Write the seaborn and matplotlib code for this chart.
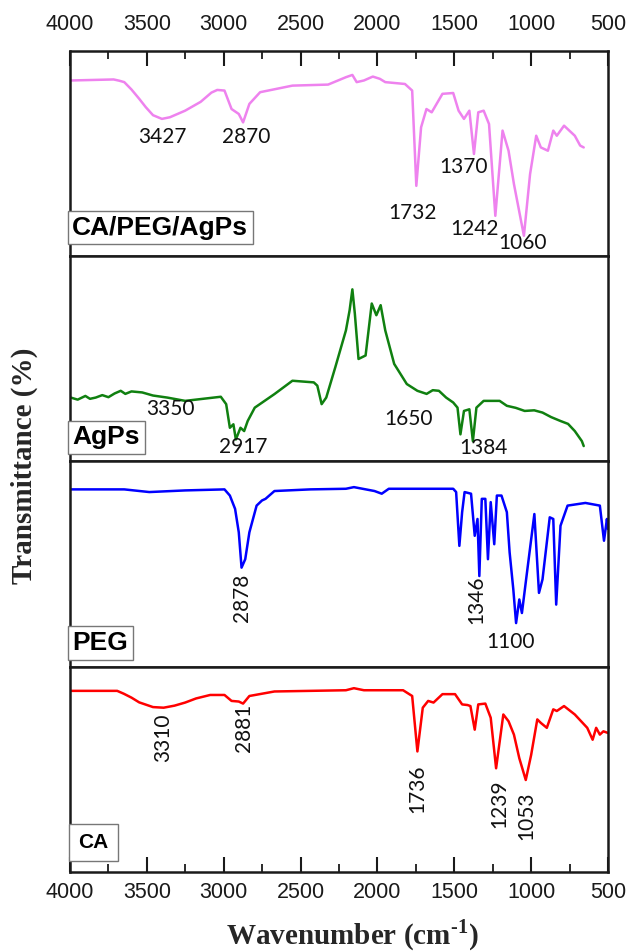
import matplotlib
matplotlib.use("Agg")
import matplotlib.pyplot as plt
import seaborn as sns
import pandas as pd
from matplotlib.ticker import MultipleLocator

# ---------------- data ----------------
# CA/PEG/AgPs spectrum
wn_cpa = [3995, 3716, 3680, 3647, 3600, 3550, 3507, 3460, 3402, 3350, 3251, 3150, 3080,
          3042, 2995, 2949, 2902, 2874, 2833, 2763,
          2553, 2321, 2205, 2163, 2135, 2088, 2030, 1984, 1949, 1821, 1774, 1747, 1716,
          1681, 1647, 1577, 1507, 1472, 1437, 1402, 1372, 1344, 1309, 1274, 1233, 1186,
          1147, 1112, 1047, 1007, 967, 937, 891, 856, 833, 786, 716, 681, 658]
t_cpa = [85.4, 85.9, 85.3, 84.6, 81.0, 76.5, 72.4, 68.5, 66.7, 67.5, 70.7, 75.0, 79.5,
         80.8, 80.5, 71.5, 69.1, 65.0, 74.0, 79.7,
         82.9, 83.4, 87.0, 88.1, 84.6, 85.4, 87.3, 86.2, 84.6, 83.7, 80.5, 34.1, 62.6,
         71.5, 69.9, 78.9, 79.3, 70.7, 66.7, 70.7, 49.6, 69.9, 70.7, 64.2, 19.5, 61.0,
         51.2, 35.0, 9.8, 39.8, 58.5, 52.8, 51.2, 61.0, 58.5, 63.4, 58.5, 53.7, 52.8]

# AgPs spectrum
wn_ag = [3995, 3950, 3900, 3870, 3833, 3790, 3750, 3710, 3670, 3640, 3600, 3530, 3460,
         3367, 3251, 3019, 2984, 2960, 2937, 2921, 2891, 2867, 2844, 2798, 2670, 2553,
         2414, 2391, 2363, 2333, 2274, 2205, 2181, 2163, 2147, 2123, 2077, 2037, 2007,
         1979, 1949, 1891, 1809, 1740, 1680, 1640, 1600, 1553, 1507, 1479, 1460, 1437,
         1402, 1379, 1356, 1309, 1205, 1158, 1100, 1042, 980, 926, 870, 809, 760, 716,
         670, 658]
t_ag = [31.0, 30.0, 31.8, 30.4, 31.0, 32.2, 31.2, 33.0, 34.3, 32.8, 34.0, 33.5, 32.0,
        31.0, 29.4, 31.4, 27.8, 16.3, 18.0, 10.6, 16.3, 14.7, 19.6, 26.1, 32.7, 39.2,
        38.4, 36.8, 27.8, 31.0, 45.8, 63.7, 73.5, 83.7, 71.9, 49.8, 51.5, 76.8, 71.1,
        76.0, 63.7, 47.4, 37.6, 34.3, 32.8, 34.6, 34.3, 31.0, 28.6, 26.1, 13.1, 24.5,
        25.3, 9.8, 26.1, 29.4, 29.4, 27.0, 26.0, 24.5, 24.8, 23.7, 21.5, 19.6, 18.2, 14.7,
        9.8, 7.4]

# PEG spectrum
wn_peg = [3995, 3647, 3484, 3251, 2995, 2960, 2926, 2902, 2884, 2860, 2833, 2786, 2751,
          2728, 2670, 2437, 2205, 2153, 2019, 1972, 1926, 1740, 1507, 1488, 1467, 1449,
          1433, 1391, 1367, 1349, 1337, 1321, 1298, 1281, 1263, 1240, 1223, 1193, 1158,
          1140, 1116, 1098, 1077, 1060, 1030, 979, 949, 926, 879, 856, 837, 809, 763,
          647, 553, 526, 507, 500]
t_peg = [86.3, 86.3, 85.0, 85.8, 86.3, 83.3, 76.8, 65.4, 48.2, 52.3, 65.4, 78.4, 80.9,
         81.7, 85.5, 86.3, 86.6, 87.4, 85.5, 84.2, 86.6, 86.6, 86.6, 85.0, 58.8, 75.2,
         85.0, 84.2, 63.7, 71.9, 44.1, 81.7, 81.7, 52.3, 80.1, 59.6, 83.3, 83.3, 75.2,
         55.6, 37.6, 21.2, 32.7, 26.1, 44.1, 74.3, 35.9, 42.5, 72.7, 71.9, 30.2, 68.6,
         78.4, 79.7, 78.4, 61.3, 71.9, 67.0]

# CA spectrum
wn_ca = [3995, 3693, 3650, 3600, 3550, 3460, 3391, 3320, 3251, 3180, 3088, 2995, 2949,
         2902, 2874, 2833, 2670,
         2205, 2153, 2088, 1833, 1774, 1740, 1705, 1670, 1635, 1577, 1495, 1449, 1414,
         1395, 1367, 1344, 1298, 1263, 1228, 1181, 1147, 1112, 1077, 1035, 1000, 960,
         937, 898, 856, 833, 786, 716, 635, 600, 577, 553, 530, 500]
t_ca = [88.2, 88.2, 86.8, 84.9, 82.6, 80.3, 80.0, 81.0, 82.5, 84.5, 86.2, 86.2, 83.3,
        83.0, 82.0, 85.7, 87.9,
        88.5, 89.5, 88.5, 88.5, 85.7, 58.7, 80.0, 83.3, 82.5, 86.6, 86.6, 81.6, 81.3,
        80.8, 69.3, 81.6, 82.0, 75.1, 50.5, 76.7, 73.4, 66.9, 55.4, 44.8, 57.0, 74.3,
        72.6, 70.2, 79.2, 78.4, 80.8, 76.7, 70.2, 64.4, 70.2, 66.9, 68.5, 67.7]

sample_names = ["CA/PEG/AgPs", "AgPs", "PEG", "CA"]
line_colors = ["#ee82ee", "#108010", "#0000ff", "#ff0000"]

# peak labels: (text, wavenumber, level, rotation)
peaks_cpa = [("3427", 3402, 57.7, 0), ("2870", 2856, 57.7, 0), ("1370", 1437, 43.1, 0),
             ("1732", 1774, 21.1, 0), ("1242", 1367, 13.0, 0), ("1060", 1053, 6.5, 0)]
peaks_ag = [("3350", 3344, 25.3, 0), ("2917", 2874, 6.9, 0), ("1650", 1798, 20.4, 0),
            ("1384", 1309, 6.5, 0)]
peaks_peg = [("2878", 2879, 33.5, 90), ("1346", 1356, 32.7, 90), ("1100", 1135, 11.8, 0)]
peaks_ca = [("3310", 3391, 65.2, 90), ("2881", 2867, 70.2, 90), ("1736", 1740, 40.7, 90),
            ("1239", 1209, 33.3, 90), ("1053", 1030, 27.5, 90)]

box_levels = [13.8, 11.6, 11.5, 14.4]
box_sizes = [19, 19, 19, 15]
box_pads = [0.18, 0.18, 0.18, 0.45]

tick_values = [4000, 3500, 3000, 2500, 2000, 1500, 1000, 500]

# ---------------- figure ----------------
sns.set_theme(style="white")
plt.rcParams["font.family"] = ["Liberation Sans", "DejaVu Sans"]
plt.rcParams["mathtext.fontset"] = "custom"
plt.rcParams["mathtext.rm"] = "Liberation Serif:bold"
plt.rcParams["mathtext.bf"] = "Liberation Serif:bold"

fig = plt.figure(figsize=(6.28, 9.52), dpi=100)
gs = fig.add_gridspec(4, 1, left=70 / 628, right=608 / 628, top=1 - 50.5 / 952,
                      bottom=1 - 872 / 952, hspace=0)
axes = [fig.add_subplot(gs[i, 0]) for i in range(4)]

spectra = [(wn_cpa, t_cpa), (wn_ag, t_ag), (wn_peg, t_peg), (wn_ca, t_ca)]
peak_sets = [peaks_cpa, peaks_ag, peaks_peg, peaks_ca]

for i, ax in enumerate(axes):
    wn, tr = spectra[i]
    df = pd.DataFrame({"Wavenumber": wn, "T": tr})
    sns.lineplot(data=df, x="Wavenumber", y="T", ax=ax, color=line_colors[i],
                 linewidth=1.8, sort=False, estimator=None)
    ax.set_xlim(4000, 500)
    ax.set_ylim(0, 100)
    ax.set_xlabel("")
    ax.set_ylabel("")
    ax.set_yticks([])
    for s in ax.spines.values():
        s.set_linewidth(1.8)
        s.set_color("#1a1a1a")
    ax.xaxis.set_major_locator(MultipleLocator(500))
    ax.xaxis.set_minor_locator(MultipleLocator(250))
    ax.tick_params(axis="x", which="both", direction="in", bottom=False, top=False,
                   labelbottom=False, labeltop=False, colors="#1a1a1a")
    ax.tick_params(axis="x", which="major", length=11, width=1.5)
    ax.tick_params(axis="x", which="minor", length=6, width=1.3)

    for txt, x, y, rot in peak_sets[i]:
        ax.text(x, y, txt, rotation=rot, ha="center", va="center", fontsize=15,
                family=["Lato", "DejaVu Sans"], color="#111111")

    ax.text(3985 if i < 3 else 3945, box_levels[i], sample_names[i], ha="left",
            va="center", fontsize=box_sizes[i], fontweight="bold", color="black",
            bbox=dict(boxstyle="square,pad=%g" % box_pads[i], fc="white", ec="#777777",
                      lw=1.0))

axes[0].tick_params(axis="x", which="both", top=True, labeltop=True, pad=11,
                    labelsize=15.5)
axes[0].set_xticks(tick_values)
axes[0].set_xticklabels([str(v) for v in tick_values])
axes[3].tick_params(axis="x", which="both", bottom=True, labelbottom=True, pad=7,
                    labelsize=15.5)
axes[3].set_xticks(tick_values)
axes[3].set_xticklabels([str(v) for v in tick_values])

fig.text(24 / 628, 1 - 466 / 952, "Transmittance (%)", rotation=90, ha="center",
         va="center", fontsize=21, fontweight="bold", family="Liberation Serif")
fig.text(352 / 628, 1 - 944 / 952, r"Wavenumber (cm$^{\text{-1}}$)", ha="center",
         va="baseline", fontsize=21, fontweight="bold", family="Liberation Serif")

fig.savefig("out.png", dpi=100)
